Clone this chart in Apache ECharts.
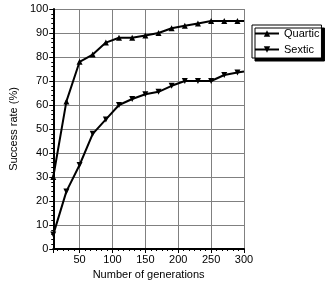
<!DOCTYPE html>
<html>
<head>
<meta charset="utf-8">
<script src="https://cdn.jsdelivr.net/npm/echarts@6/dist/echarts.min.js"></script>
<style>html,body{margin:0;padding:0;background:#fff}#c{width:331px;height:286px}</style>
</head>
<body>
<div id="c"></div>
<script>
var generations = [10, 30, 50, 70, 90, 110, 130, 150, 170, 190, 210, 230, 250, 270, 290, 300];
var quartic = [30, 61.5, 78, 81, 86, 88, 88, 89, 90, 92, 93, 94, 95, 95, 95, 95];
var sextic = [6, 24, 35, 48, 54, 60, 62.5, 64.5, 65.5, 68, 70, 70, 70, 72.5, 73.5, 74];
var seriesNames = ['Quartic', 'Sextic'];
var xTitle = 'Number of generations';
var yTitle = 'Success rate (%)';

function pairs(vals) {
  return generations.map(function (g, i) {
    var item = { value: [g, vals[i]] };
    if (g === 300) item.symbol = 'none';
    return item;
  });
}
var font = 'Liberation Sans, Arial, sans-serif';
var chart = echarts.init(document.getElementById('c'), null, { renderer: 'canvas' });
chart.setOption({
  animation: false,
  backgroundColor: '#fff',
  textStyle: { fontFamily: font, color: '#000' },
  grid: { left: 41, right: 87, top: 9, bottom: 37 },
  legend: {
    left: 252, top: 25, orient: 'vertical',
    data: seriesNames,
    backgroundColor: '#fff', borderColor: '#000', borderWidth: 1,
    shadowColor: '#000', shadowOffsetX: 3, shadowOffsetY: 3, shadowBlur: 0,
    padding: [3, 2, 3, 2], itemGap: 5, itemWidth: 24, itemHeight: 8,
    textStyle: { fontSize: 11, color: '#000', fontFamily: font }
  },
  xAxis: {
    type: 'value', min: 10, max: 300,
    name: xTitle, nameLocation: 'middle', nameGap: 20,
    nameTextStyle: { fontSize: 11, color: '#000', fontFamily: font },
    axisLine: { lineStyle: { color: '#000', width: 2 } },
    axisTick: { show: true, length: 4, lineStyle: { color: '#000' } },
    minorTick: { show: true, splitNumber: 6, length: 2, lineStyle: { color: '#000' } },
    axisLabel: { fontSize: 11, color: '#000', margin: 5, showMinLabel: false },
    splitLine: { show: true, lineStyle: { color: '#808080', width: 1 } }
  },
  yAxis: {
    type: 'value', min: 0, max: 100, interval: 10,
    name: yTitle, nameLocation: 'middle', nameGap: 31, nameRotate: 90,
    nameTextStyle: { fontSize: 11, color: '#000', fontFamily: font },
    axisLine: { show: true, lineStyle: { color: '#000', width: 2 } },
    axisTick: { show: true, length: 4, lineStyle: { color: '#000' } },
    minorTick: { show: true, splitNumber: 5, length: 2, lineStyle: { color: '#000' } },
    axisLabel: { fontSize: 11, color: '#000', margin: 5 },
    splitLine: { show: true, lineStyle: { color: '#808080', width: 1 } }
  },
  series: [
    {
      name: seriesNames[0], type: 'line', data: pairs(quartic),
      symbol: 'triangle', symbolSize: 6, color: '#000',
      lineStyle: { color: '#000', width: 2 }, itemStyle: { color: '#000' }
    },
    {
      name: seriesNames[1], type: 'line', data: pairs(sextic),
      symbol: 'triangle', symbolRotate: 180, symbolSize: 6, color: '#000',
      lineStyle: { color: '#000', width: 2 }, itemStyle: { color: '#000' }
    }
  ]
});
</script>
</body>
</html>
